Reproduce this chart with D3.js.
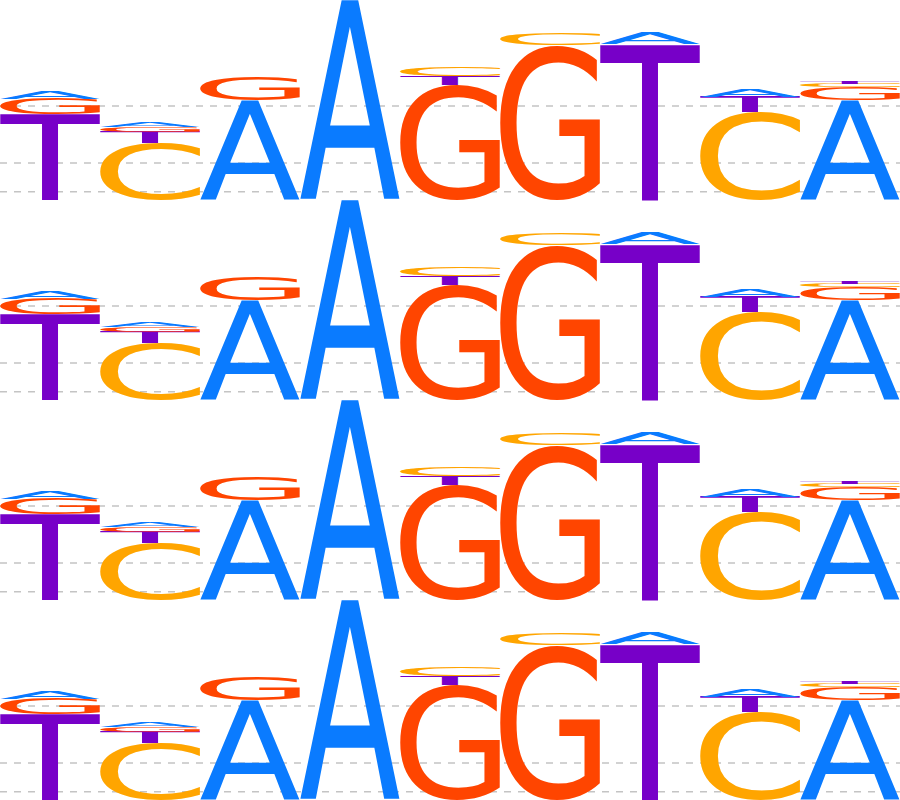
<!DOCTYPE html>
<html>
<head>
<meta charset="utf-8">
<script src="https://cdn.jsdelivr.net/npm/d3@7"></script>
<style>
	body { margin: 0; background: #fff; }
	svg { display: block; }
</style>
</head>
<body>
<svg width="900" height="800"></svg>
<script>
// sequence logo, 9 positions, same motif drawn in 4 rows
var positions = [1, 2, 3, 4, 5, 6, 7, 8, 9];
var letters = ["A", "C", "G", "T"];
// letter heights in bits, per position
var bitsA = [0.080, 0.048, 1.000, 2.000, 0.000, 0.000, 0.110, 0.077, 1.000];
var bitsC = [0.000, 0.567, 0.000, 0.000, 0.088, 0.117, 0.000, 0.880, 0.035];
var bitsG = [0.155, 0.050, 0.240, 0.000, 1.150, 1.550, 0.000, 0.000, 0.130];
var bitsT = [0.853, 0.117, 0.000, 0.000, 0.092, 0.000, 1.555, 0.153, 0.030];
var gridLines = [0.083, 0.37, 0.94];
var rows = [0, 1, 2, 3];

var colors = { A: "#0a7bff", C: "#ffa500", G: "#ff4500", T: "#7700c8" };
var fontSpec = "200px 'DejaVu Sans'";

var svg = d3.select("svg"),
	width = +svg.attr("width"),
	rowHeight = +svg.attr("height") / rows.length;

var x = d3.scaleBand().domain(positions).range([0, width]).padding(0),
	y = d3.scaleLinear().domain([0, 2]).range([rowHeight, 0]);

// ink box of each glyph, so letters can be stretched to fill their slot
var ctx = document.createElement("canvas").getContext("2d");
ctx.font = fontSpec;
var ink = {};
letters.forEach(function(l) {
	var m = ctx.measureText(l);
	ink[l] = {
		left: m.actualBoundingBoxLeft,
		w: m.actualBoundingBoxLeft + m.actualBoundingBoxRight,
		asc: m.actualBoundingBoxAscent,
		h: m.actualBoundingBoxAscent + m.actualBoundingBoxDescent
	};
});

var table = { A: bitsA, C: bitsC, G: bitsG, T: bitsT };

// stack per position: tallest at the bottom
var stacks = positions.map(function(p, i) {
	var items = letters.map(function(l) { return { letter: l, value: table[l][i], pos: p }; })
		.filter(function(d) { return d.value > 0; })
		.sort(function(a, b) { return b.value - a.value; });
	var base = 0;
	items.forEach(function(d) {
		d.y0 = base;
		d.y1 = base + d.value;
		base = d.y1;
	});
	return items;
});
var glyphs = [].concat.apply([], stacks);

rows.forEach(function(r) {
	var g = svg.append("g")
		.attr("transform", "translate(0," + (r * rowHeight) + ")");

	g.selectAll(".grid")
		.data(gridLines)
		.enter().append("line")
		.attr("class", "grid")
		.attr("x1", 0)
		.attr("x2", width)
		.attr("y1", function(d) { return y(d); })
		.attr("y2", function(d) { return y(d); })
		.attr("stroke", "#c4c4c4")
		.attr("stroke-width", 1.5)
		.attr("stroke-dasharray", "7,7");

	g.selectAll(".letter")
		.data(glyphs)
		.enter().append("text")
		.attr("class", "letter")
		.attr("font-family", "DejaVu Sans")
		.attr("font-size", 200)
		.attr("fill", function(d) { return colors[d.letter]; })
		.attr("transform", function(d) {
			var m = ink[d.letter],
				bw = x.bandwidth(),
				bh = y(d.y0) - y(d.y1),
				sx = bw / m.w,
				sy = bh / m.h;
			return "translate(" + (x(d.pos) + m.left * sx) + "," + (y(d.y1) + m.asc * sy) + ") scale(" + sx + "," + sy + ")";
		})
		.text(function(d) { return d.letter; });
});
</script>
</body>
</html>
